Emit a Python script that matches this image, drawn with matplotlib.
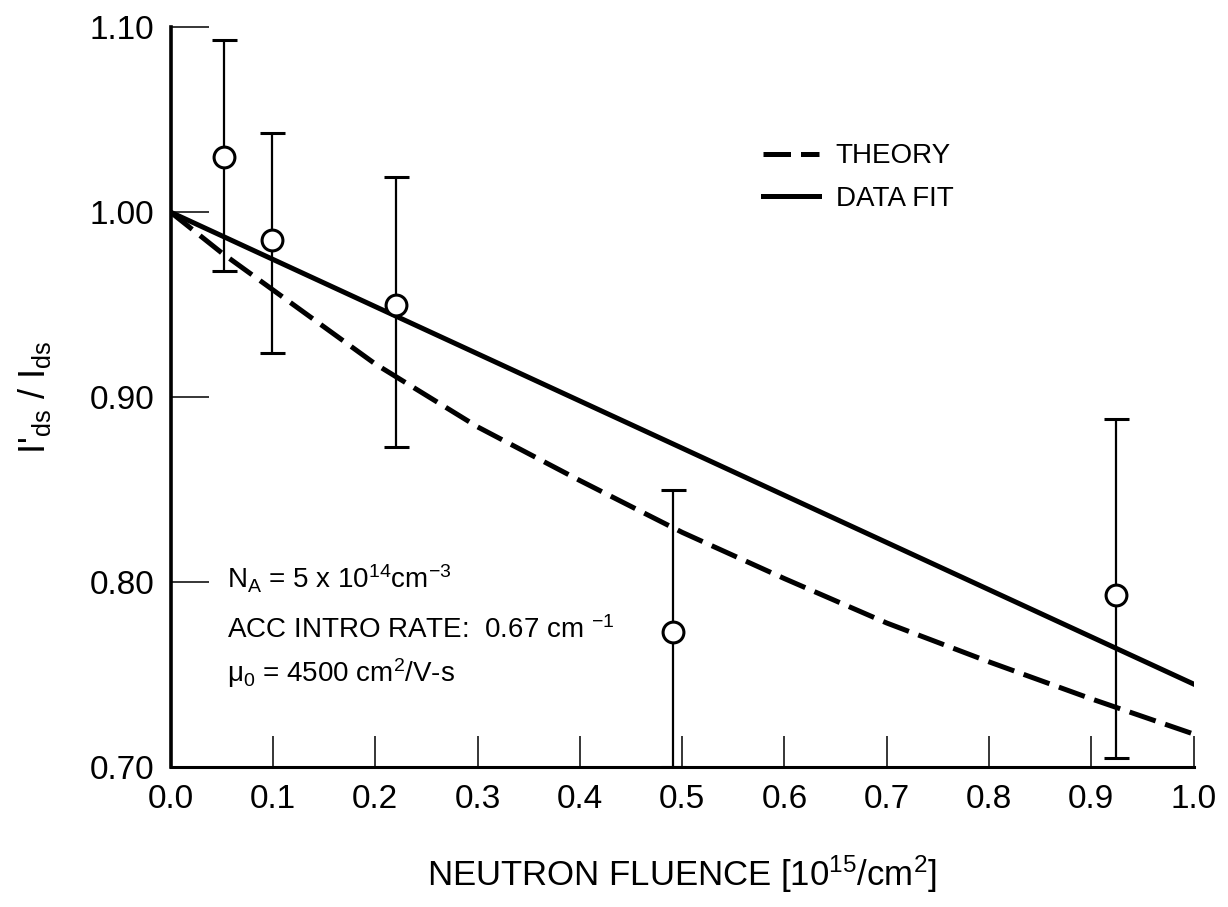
import matplotlib
matplotlib.use("Agg")
from matplotlib import pyplot as plt

plt.rcParams['font.family'] = ['Liberation Sans', 'DejaVu Sans']
plt.rcParams['mathtext.default'] = 'regular'

# measured points with error bars
fluence = [0.052, 0.099, 0.220, 0.491, 0.924]
ratio = [1.030, 0.985, 0.950, 0.773, 0.793]
err_hi = [1.093, 1.043, 1.019, 0.850, 0.888]
err_lo = [0.968, 0.924, 0.873, 0.700, 0.705]

# theory curve (dashed)
theory_x = [0.0, 0.05, 0.1, 0.2, 0.3, 0.4, 0.5, 0.6, 0.7, 0.8, 0.9, 1.0]
theory_y = [1.000, 0.978, 0.958, 0.918, 0.884, 0.855, 0.827, 0.802, 0.778, 0.757, 0.737, 0.718]

# data fit (solid)
fit_x = [0.0, 1.0]
fit_y = [1.000, 0.745]

xticks = [0.0, 0.1, 0.2, 0.3, 0.4, 0.5, 0.6, 0.7, 0.8, 0.9, 1.0]
yticks = [0.70, 0.80, 0.90, 1.00, 1.10]

fig = plt.figure(figsize=(12.28, 9.07), dpi=100)
ax = fig.add_axes([0.139, 0.154, 0.833, 0.816])

ax.plot(theory_x, theory_y, color='black', lw=3.6, dashes=(5.5, 2.0), label='THEORY')
ax.plot(fit_x, fit_y, color='black', lw=3.6, label='DATA FIT')

yerr = [[r - lo for r, lo in zip(ratio, err_lo)], [hi - r for r, hi in zip(ratio, err_hi)]]
ax.errorbar(fluence, ratio, yerr=yerr, fmt='o', color='black', ms=15, mfc='white',
            mec='black', mew=2.2, elinewidth=1.6, capsize=9, capthick=1.6, zorder=3)

ax.set_xlim(0, 1.0)
ax.set_ylim(0.70, 1.10)
ax.set_xticks(xticks)
ax.set_xticklabels([f"{t:.1f}" for t in xticks])
ax.set_yticks(yticks)
ax.set_yticklabels([f"{t:.2f}" for t in yticks])

for s in ['top', 'right']:
    ax.spines[s].set_visible(False)
ax.spines['left'].set_linewidth(2.6)
ax.spines['bottom'].set_linewidth(2.2)
ax.tick_params(axis='y', direction='in', length=27, width=1.1, labelsize=24, pad=12)
ax.tick_params(axis='x', direction='in', length=22, width=1.1, labelsize=24, pad=12)

ax.set_xlabel("NEUTRON FLUENCE [10$^{15}$/cm$^{2}$]", fontsize=25, labelpad=28)
ax.set_ylabel("I'$_{ds}$ / I$_{ds}$", fontsize=26, labelpad=26)

ax.text(0.055, 0.802, "N$_A$ = 5 x 10$^{14}$cm$^{-3}$", fontsize=20, va='center')
ax.text(0.055, 0.774, "ACC INTRO RATE:  0.67 cm $^{-1}$", fontsize=20, va='center')
ax.text(0.055, 0.751, "\u03bc$_0$ = 4500 cm$^2$/V-s", fontsize=20, va='center')

ax.legend(loc='upper left', bbox_to_anchor=(0.555, 0.877), frameon=False, fontsize=20,
          handlelength=2.0, handletextpad=0.6, labelspacing=0.6)

fig.savefig("out.png", dpi=100)
